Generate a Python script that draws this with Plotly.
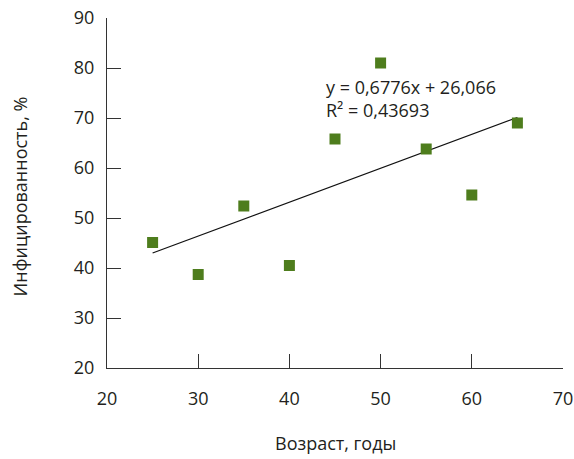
import plotly.graph_objects as go

age = [25, 30, 35, 40, 45, 50, 55, 60, 65]
infection = [45.1, 38.7, 52.4, 40.5, 65.8, 81.0, 63.8, 54.6, 69.0]
slope = 0.6776
intercept = 26.066
r2_text = "0,43693"
x_ticks = [20, 30, 40, 50, 60, 70]
y_ticks = [20, 30, 40, 50, 60, 70, 80, 90]

trend_x = [min(age), max(age)]
trend_y = [slope * x + intercept for x in trend_x]

font_family = "Open Sans, Noto Sans, sans-serif"
text_color = "#231f20"
fsize = 18

fig = go.Figure()
fig.add_trace(go.Scatter(x=trend_x, y=trend_y, mode="lines",
                         line=dict(color="#111111", width=1.2), hoverinfo="skip"))
fig.add_trace(go.Scatter(x=age, y=infection, mode="markers",
                         marker=dict(symbol="square", size=11, color="#4e7d1d")))

fig.add_annotation(x=43.8, y=73.9, xref="x", yref="y", xanchor="left", yanchor="middle",
                   align="left", showarrow=False,
                   text="y = 0,6776x + 26,066<br>R² = " + r2_text,
                   font=dict(family=font_family, size=fsize, color=text_color))

fig.add_annotation(x=0.5, y=-0.214, xref="paper", yref="paper", xanchor="center", yanchor="middle",
                   showarrow=False, text="Возраст, годы",
                   font=dict(family=font_family, size=fsize, color=text_color))
fig.add_annotation(x=-0.191, y=0.49, xref="paper", yref="paper", xanchor="center", yanchor="middle",
                   showarrow=False, text="Инфицированность, %", textangle=-90,
                   font=dict(family=font_family, size=fsize, color=text_color))

axis_common = dict(showgrid=False, zeroline=False, showline=True, linecolor="#333333",
                   linewidth=1.2, ticks="inside", ticklen=14, tickcolor="#333333",
                   tickwidth=1.2, automargin=False, ticklabeloverflow="allow",
                   tickfont=dict(family=font_family, size=fsize, color=text_color))

fig.update_xaxes(range=[20, 70], tickvals=x_ticks, ticklabelstandoff=14, **axis_common)
fig.update_yaxes(range=[20, 90], tickvals=y_ticks, ticklabelstandoff=8, **axis_common)
fig.update_layout(width=574, height=459, showlegend=False,
                  plot_bgcolor="white", paper_bgcolor="white",
                  margin=dict(l=107, r=11, t=18, b=91))
fig.write_html("out.html", config={"displayModeBar": False},
               post_script="document.body.style.margin='0';document.body.style.overflow='hidden';")
